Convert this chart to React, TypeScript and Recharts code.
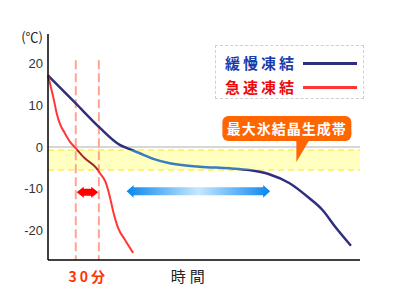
import { LineChart, Line, XAxis, YAxis, ReferenceLine, ReferenceArea, ReferenceDot, Legend } from 'recharts'

// 時間 (arbitrary units 0-100) / 温度 (℃)
const slowTime = [0, 8.9, 16.3, 23, 26.2, 29.4, 34, 39, 48.6, 58.1, 64.5, 70.9, 77.3, 83.7, 87.9, 92.3, 97.1]
const slowTemp = [17.1, 10.4, 4.8, 0.5, -0.5, -1.5, -2.9, -3.9, -4.7, -5.1, -5.5, -6.5, -8.6, -12.2, -15, -19.3, -23.6]

const fastTime = [0, 1.9, 2.8, 3.8, 5.4, 7.0, 8.9, 11.8, 15.6, 16.6, 18.4, 19.8, 20.9, 22.5, 24.6, 27.3]
const fastTemp = [17.1, 11.2, 8.0, 5.6, 3.3, 1.3, -0.3, -2.7, -5.1, -6.2, -8.3, -11.8, -15.4, -19.4, -22.1, -25.3]

const seriesNames = ['緩慢凍結', '急速凍結']
const yTicks = [20, 10, 0, -10, -20]
const xTicks = [12.9, 45.4]
const xTickLabels = ['30分', '時間']
const unitLabel = '(℃)'
const bandLabel = '最大氷結晶生成帯'

// 最大氷結晶生成帯 (top, bottom)
const bandTop = -0.7
const bandBottom = -5.5
const cutoffTimes = [8.9, 16.3]
const cutoffTop = 20.7
const fastSpan = [9.2, 16.1]
const slowSpan = [25.2, 71.2]
const calloutTip = { t: 79.6, temp: -3.6 }

const slowData = slowTime.map((t, i) => ({ t, temp: slowTemp[i] }))
const fastData = fastTime.map((t, i) => ({ t, temp: fastTemp[i] }))

const lineColors = ['#2e2f7e', '#ff3636']
const bandLineColors = ['#3a7cc0', '#a02828']
const legendTextColors = ['#1c3caa', '#ee0a0a']

const jp = '"Noto Sans CJK JP", sans-serif'

// gradient offsets so the part of each line inside the band changes colour
function bandStops(values: number[]) {
  const max = Math.max(...values)
  const min = Math.min(...values)
  return [(max - bandTop) / (max - min), (max - bandBottom) / (max - min)]
}

function StrokeGradient({ id, values, color, bandColor }: any) {
  const [a, b] = bandStops(values)
  return (
    <linearGradient id={id} x1="0" y1="0" x2="0" y2="1">
      <stop offset={0} stopColor={color} />
      <stop offset={a} stopColor={color} />
      <stop offset={a} stopColor={bandColor} />
      <stop offset={b} stopColor={bandColor} />
      <stop offset={b} stopColor={color} />
      <stop offset={1} stopColor={color} />
    </linearGradient>
  )
}

function DoubleArrow({ x, y, width, height, paint, head, shaft }: any) {
  const cy = y + height / 2
  const pts = [
    [x, cy],
    [x + head, y],
    [x + head, cy - shaft],
    [x + width - head, cy - shaft],
    [x + width - head, y],
    [x + width, cy],
    [x + width - head, y + height],
    [x + width - head, cy + shaft],
    [x + head, cy + shaft],
    [x + head, y + height],
  ]
  return <polygon points={pts.map((p) => p.join(',')).join(' ')} fill={paint} />
}

function Callout({ cx, cy }: any) {
  return (
    <g>
      <rect x={cx - 74} y={cy - 46} width={129} height={25} rx={6} fill="#ff6600" />
      <polygon points={`${cx},${cy - 22} ${cx + 13},${cy - 22} ${cx},${cy}`} fill="#ff6600" />
      <text x={cx - 9.5} y={cy - 28.5} textAnchor="middle" fill="#fff" fontSize={14} fontWeight="bold" letterSpacing={1} fontFamily={jp}>
        {bandLabel}
      </text>
    </g>
  )
}

function XTick({ x, y, index }: any) {
  const first = index === 0
  return (
    <text
      x={x}
      y={y}
      dy={21.5}
      textAnchor="middle"
      fontFamily={jp}
      fontSize={first ? 14 : 15}
      fontWeight={first ? 'bold' : 'normal'}
      letterSpacing={first ? 3 : 4}
      fill={first ? '#ff3300' : '#222'}
    >
      {xTickLabels[index]}
    </text>
  )
}

function UnitLabel({ viewBox }: any) {
  return (
    <text x={viewBox.x + viewBox.width - 5} y={viewBox.y + 7.5} textAnchor="end" fontSize={13} fontFamily={jp} fill="#222">
      {unitLabel}
    </text>
  )
}

function LegendBox() {
  return (
    <div style={{ position: 'relative', width: 149, height: 54, border: '1px dashed #cfcfcf', boxSizing: 'border-box', fontFamily: jp }}>
      {seriesNames.map((name, i) => (
        <div key={name} style={{ position: 'absolute', left: 9, top: 7 + i * 24, height: 20, display: 'flex', alignItems: 'center' }}>
          <span style={{ width: 78, color: legendTextColors[i], fontSize: 15, fontWeight: 700, letterSpacing: 3, lineHeight: '20px' }}>{name}</span>
          <span style={{ display: 'inline-block', width: 54, height: 3, background: lineColors[i] }} />
        </div>
      ))}
    </div>
  )
}

export default function App() {
  return (
    <div style={{ position: 'absolute', left: 0, top: 0, background: '#fff' }}>
      <LineChart width={393} height={303} margin={{ top: 34, right: 33, bottom: 0, left: 0 }}>
        <defs>
          <StrokeGradient id="slowStroke" values={slowTemp} color={lineColors[0]} bandColor={bandLineColors[0]} />
          <StrokeGradient id="fastStroke" values={fastTemp} color={lineColors[1]} bandColor={bandLineColors[1]} />
          <linearGradient id="slowArrow" x1="0" y1="0" x2="1" y2="0">
            <stop offset="0%" stopColor="#0a86ee" />
            <stop offset="50%" stopColor="#c6e8ff" />
            <stop offset="100%" stopColor="#0a86ee" />
          </linearGradient>
        </defs>
        <XAxis
          type="number"
          dataKey="t"
          domain={[0, 100]}
          ticks={xTicks}
          tick={<XTick />}
          tickLine={false}
          tickSize={0}
          tickMargin={0}
          height={43}
          axisLine={{ stroke: '#000', strokeWidth: 1.5 }}
        />
        <YAxis
          type="number"
          domain={[-27, 27]}
          ticks={yTicks}
          width={48}
          tickLine={false}
          tickSize={0}
          tickMargin={5}
          tick={{ fill: '#333', fontSize: 13, fontFamily: '"Liberation Sans", sans-serif' }}
          axisLine={{ stroke: '#000', strokeWidth: 1.5 }}
          label={{ content: <UnitLabel /> }}
        />
        <ReferenceArea y1={bandTop} y2={bandBottom} fill="#ffffbf" fillOpacity={1} stroke="none" />
        <ReferenceLine y={0} stroke="#c8c8c8" strokeWidth={1.5} />
        <ReferenceLine y={bandTop} stroke="#ffee55" strokeWidth={1.5} strokeDasharray="6 4" />
        <ReferenceLine y={bandBottom} stroke="#ffee55" strokeWidth={1.5} strokeDasharray="6 4" />
        {cutoffTimes.map((t) => (
          <ReferenceLine
            key={t}
            segment={[{ x: t, y: cutoffTop }, { x: t, y: -27 }]}
            stroke="#ffa493"
            strokeWidth={2}
            strokeDasharray="9 4"
          />
        ))}
        <ReferenceArea
          x1={fastSpan[0]}
          x2={fastSpan[1]}
          y1={-9.5}
          y2={-12.1}
          shape={(p: any) => <DoubleArrow {...p} paint="#ff0000" head={7} shaft={3.5} />}
        />
        <ReferenceArea
          x1={slowSpan[0]}
          x2={slowSpan[1]}
          y1={-9.05}
          y2={-12.15}
          shape={(p: any) => <DoubleArrow {...p} paint="url(#slowArrow)" head={7} shaft={4} />}
        />
        <Line
          data={slowData}
          dataKey="temp"
          name={seriesNames[0]}
          type="monotone"
          stroke="url(#slowStroke)"
          strokeWidth={2.5}
          dot={false}
          activeDot={false}
          isAnimationActive={false}
        />
        <Line
          data={fastData}
          dataKey="temp"
          name={seriesNames[1]}
          type="monotone"
          stroke="url(#fastStroke)"
          strokeWidth={2}
          dot={false}
          activeDot={false}
          isAnimationActive={false}
        />
        <ReferenceDot x={calloutTip.t} y={calloutTip.temp} shape={(p: any) => <Callout {...p} />} />
        <Legend
          layout="vertical"
          align="center"
          verticalAlign="middle"
          content={<LegendBox />}
          wrapperStyle={{ left: 215, top: 45, width: 149, height: 54 }}
        />
      </LineChart>
    </div>
  )
}
